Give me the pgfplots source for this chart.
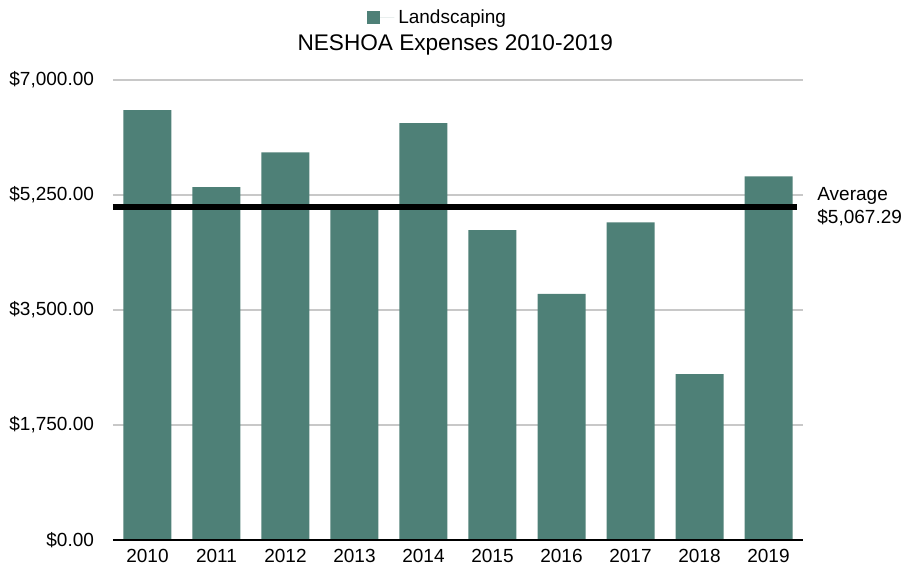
\documentclass[border=0pt]{standalone}
\usepackage{pgfplots}
\pgfplotsset{compat=1.18}
\usepackage{fontspec}
\setmainfont{Liberation Sans}
\definecolor{barteal}{HTML}{4E8077}
\definecolor{gridgray}{HTML}{C8C8C8}
\begin{document}
\begin{tikzpicture}
\useasboundingbox (-56.5pt,-16pt) rectangle (397pt,270pt);
\begin{axis}[
    at={(0,0)}, anchor=south west,
    scale only axis,
    width=345pt, height=230pt,
    ybar, bar width=24pt, bar shift=0pt,
    xmin=-0.5, xmax=9.5,
    ymin=0, ymax=7000,
    xtick={0,1,2,3,4,5,6,7,8,9},
    xticklabels={2010,2011,2012,2013,2014,2015,2016,2017,2018,2019},
    ytick={0,1750,3500,5250,7000},
    yticklabels={{\$0.00},{\$1,750.00},{\$3,500.00},{\$5,250.00},{\$7,000.00}},
    major tick length=0pt,
    ymajorgrids,
    grid style={gridgray, line width=0.6pt},
    axis line style={draw=none},
    axis x line*=bottom,
    axis y line*=left,
    tick label style={font=\fontsize{9.5}{11}\selectfont},
    yticklabel style={xshift=-6pt},
    xticklabel style={yshift=-1pt},
    every axis title shift=0pt,
    title={NESHOA Expenses 2010-2019},
    title style={font=\fontsize{11.3}{13}\selectfont, at={(0.496,1.076)}, anchor=center},
    legend style={at={(0.472,1.135)}, anchor=center, draw=none, fill=none,
        font=\fontsize{9.5}{11}\selectfont, inner sep=0pt},
    legend image code/.code={\fill[barteal] (0pt,-3.25pt) rectangle (6.5pt,3.25pt);
        \path (0pt,0pt) -- (13.5pt,0pt);},
    clip=false,
]
\addplot[fill=barteal, draw=none] coordinates {
    (0,6540) (1,5370) (2,5900) (3,5080) (4,6345)
    (5,4715) (6,3745) (7,4835) (8,2525) (9,5535)
};
\addlegendentry{Landscaping}
\draw[black, line width=0.8pt] (axis cs:-0.5,0) -- (axis cs:9.5,0);
\addplot[ybar=0pt, sharp plot, black, line width=3pt, forget plot] coordinates {
    (-0.5,5067.29) (9.42,5067.29)
};
\node[anchor=west, align=left, font=\fontsize{9.5}{11.5}\selectfont, inner sep=0pt]
    at (axis cs:9.5,5067.29) [xshift=7pt] {Average\\\$5,067.29};
\end{axis}
\end{tikzpicture}
\end{document}
